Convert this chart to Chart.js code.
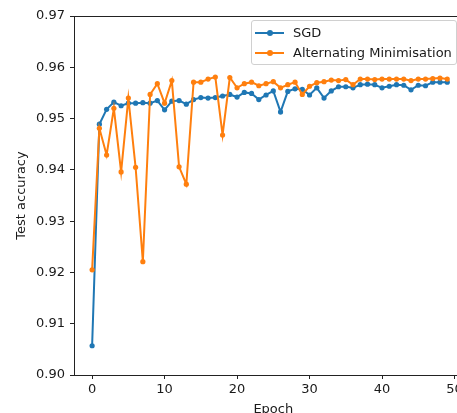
<!DOCTYPE html>
<html>
<head>
<meta charset="utf-8">
<script src="https://cdn.jsdelivr.net/npm/chart.js@4.4.0/dist/chart.umd.min.js"></script>
<style>
  html, body { margin: 0; padding: 0; background: #fff; overflow: hidden; width: 457px; height: 413px; }
  #wrap { position: absolute; left: 0; top: 0; width: 500px; height: 417px; }
  #legend { position: absolute; left: 251px; top: 20px; width: 206px; height: 45px; box-sizing: border-box;
    border: 1px solid #d0d0d0; border-radius: 3px; background: rgba(255,255,255,0.85);
    font-family: "DejaVu Sans", sans-serif; font-size: 13px; color: #1a1a1a; }
  .row { position: absolute; left: 0; height: 16px; line-height: 16px; white-space: nowrap; }
  .handle { position: absolute; left: 3px; top: 7px; width: 29px; height: 2px; }
  .dot { position: absolute; left: 12px; top: -2px; width: 6px; height: 6px; border-radius: 50%; }
  .lbl { position: absolute; left: 41px; top: 0; }
</style>
</head>
<body>
<div id="wrap"><canvas id="c" width="500" height="417"></canvas></div>
<div id="legend"></div>
<script>
const epochs = [0,1,2,3,4,5,6,7,8,9,10,11,12,13,14,15,16,17,18,19,20,21,22,23,24,25,26,27,28,29,30,31,32,33,34,35,36,37,38,39,40,41,42,43,44,45,46,47,48,49];
const sgd = [0.9057,0.9489,0.9518,0.9532,0.9525,0.9530,0.9530,0.9531,0.9530,0.9535,
             0.9517,0.9534,0.9535,0.9528,0.9537,0.9541,0.9540,0.9541,0.9544,0.9547,
             0.9542,0.9551,0.9549,0.9537,0.9546,0.9554,0.9513,0.9553,0.9558,0.9557,
             0.9546,0.9560,0.9540,0.9554,0.9562,0.9562,0.9560,0.9566,0.9567,0.9566,
             0.9560,0.9563,0.9566,0.9565,0.9556,0.9565,0.9564,0.9571,0.9571,0.9571];
const altMin = [0.9205,0.9481,0.9429,0.9520,0.9396,0.9540,0.9405,0.9221,0.9547,0.9568,
                0.9530,0.9574,0.9406,0.9372,0.9571,0.9571,0.9577,0.9581,0.9468,0.9580,
                0.9560,0.9568,0.9571,0.9564,0.9568,0.9572,0.9560,0.9566,0.9571,0.9547,
                0.9563,0.9570,0.9572,0.9575,0.9574,0.9576,0.9566,0.9577,0.9577,0.9576,
                0.9577,0.9577,0.9577,0.9577,0.9574,0.9577,0.9577,0.9578,0.9579,0.9577];
const seriesNames = ["SGD", "Alternating Minimisation"];
const seriesColors = ["#1f77b4", "#ff7f0e"];
const xTicks = [0, 10, 20, 30, 40, 50];
const yTicks = [0.90, 0.91, 0.92, 0.93, 0.94, 0.95, 0.96, 0.97];
const xLabel = "Epoch";
const yLabel = "Test accuracy";

const font = { family: "'DejaVu Sans', sans-serif", size: 13 };

function toPts(vals) { return epochs.map((e, i) => ({ x: e, y: vals[i] })); }

const frame = {
  id: 'frame',
  afterDatasetsDraw(chart) {
    const a = chart.chartArea, ctx = chart.ctx;
    ctx.save();
    ctx.strokeStyle = '#222';
    ctx.lineWidth = 1;
    ctx.beginPath();
    ctx.moveTo(a.left, a.top + 0.5);
    ctx.lineTo(a.right, a.top + 0.5);
    ctx.lineTo(a.right, a.bottom);
    ctx.stroke();
    ctx.restore();
  }
};

new Chart(document.getElementById('c'), {
  type: 'line',
  data: {
    datasets: [
      { label: seriesNames[0], data: toPts(sgd), borderColor: seriesColors[0], backgroundColor: seriesColors[0],
        borderWidth: 2, pointRadius: 2.6, pointHoverRadius: 2.6, pointBorderWidth: 0, tension: 0, order: 2 },
      { label: seriesNames[1], data: toPts(altMin), borderColor: seriesColors[1], backgroundColor: seriesColors[1],
        borderWidth: 2, pointRadius: 2.6, pointHoverRadius: 2.6, pointBorderWidth: 0, tension: 0, order: 1 }
    ]
  },
  options: {
    responsive: false,
    animation: false,
    layout: { padding: { top: 16, right: 27.4, left: 0, bottom: 0 } },
    plugins: { legend: { display: false }, tooltip: { enabled: false } },
    scales: {
      x: {
        type: 'linear', min: -2.5, max: 52.5,
        afterFit: s => { s.height = 42; },
        afterBuildTicks: s => { s.ticks = xTicks.map(v => ({ value: v })); },
        grid: { drawOnChartArea: false, drawTicks: true, tickLength: 4, color: '#222' },
        border: { display: true, color: '#222', width: 1 },
        ticks: { font, color: '#1a1a1a', padding: 3, maxRotation: 0, callback: v => String(v) },
        title: { display: true, text: xLabel, font, color: '#1a1a1a', padding: { top: 0, bottom: 0 } }
      },
      y: {
        type: 'linear', min: 0.90, max: 0.97,
        afterFit: s => { s.width = 74; },
        afterBuildTicks: s => { s.ticks = yTicks.map(v => ({ value: v })); },
        grid: { drawOnChartArea: false, drawTicks: true, tickLength: 4, color: '#222' },
        border: { display: true, color: '#222', width: 1 },
        ticks: { font, color: '#1a1a1a', padding: 5, callback: v => v.toFixed(2) },
        title: { display: true, text: yLabel, font, color: '#1a1a1a', padding: { top: 14, bottom: 0 } }
      }
    }
  },
  plugins: [frame]
});

// HTML legend
const leg = document.getElementById('legend');
seriesNames.forEach((name, i) => {
  const row = document.createElement('div');
  row.className = 'row';
  row.style.top = (4 + i * 20) + 'px';
  const h = document.createElement('div');
  h.className = 'handle';
  h.style.background = seriesColors[i];
  const d = document.createElement('div');
  d.className = 'dot';
  d.style.background = seriesColors[i];
  h.appendChild(d);
  const t = document.createElement('span');
  t.className = 'lbl';
  t.textContent = name;
  row.appendChild(h);
  row.appendChild(t);
  leg.appendChild(row);
});
</script>
</body>
</html>
